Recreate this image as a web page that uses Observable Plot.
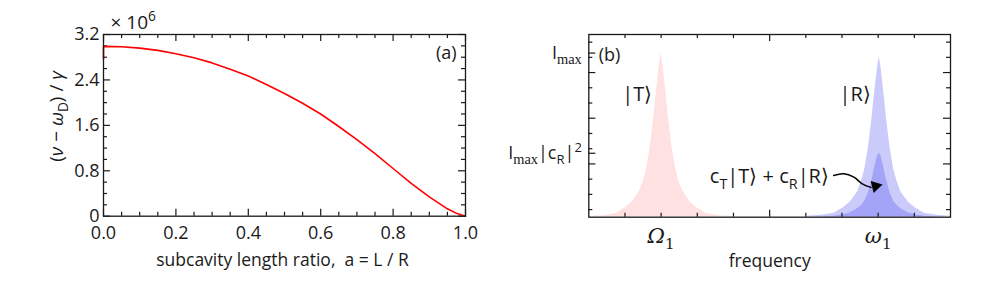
<!DOCTYPE html>
<html><head><meta charset="utf-8">
<script src="https://cdn.jsdelivr.net/npm/d3@7"></script>
<script src="https://cdn.jsdelivr.net/npm/@observablehq/plot@0.6"></script>
<style>
html,body{margin:0;padding:0;background:#fff;}
#wrap{position:relative;width:996px;height:296px;overflow:hidden;background:#fff;}
#wrap svg{position:absolute;top:0;}
</style></head><body><div id="wrap"></div>
<script>
// ---------- Panel (a) data ----------
const lengthRatio = [0, 0, 0.05, 0.1, 0.15, 0.2, 0.25, 0.3, 0.35, 0.4, 0.45, 0.5, 0.55, 0.6, 0.65, 0.7, 0.75, 0.8, 0.85, 0.9, 0.95, 0.975, 1.0];
const detuning    = [2.77, 2.99, 2.985, 2.96, 2.92, 2.86, 2.79, 2.70, 2.59, 2.47, 2.32, 2.16, 1.99, 1.80, 1.58, 1.35, 1.10, 0.84, 0.58, 0.34, 0.13, 0.05, 0.0];
const aXTicks = [0, 0.2, 0.4, 0.6, 0.8, 1.0];
const aXTickLabels = ["0.0", "0.2", "0.4", "0.6", "0.8", "1.0"];
const aYTicks = [0, 0.8, 1.6, 2.4, 3.2];
const aYTickLabels = ["0", "0.8", "1.6", "2.4", "3.2"];

// ---------- Panel (b) data ----------
const lineOffsets = [-2, -1.6, -1.25, -1.0, -0.8, -0.6, -0.5, -0.4, -0.3, -0.2, -0.15, -0.1, -0.05, 0, 0.05, 0.1, 0.15, 0.2, 0.3, 0.4, 0.5, 0.6, 0.8, 1.0, 1.25, 1.6, 2.0];
const heightT   = [0.04, 0.1, 0.25, 0.6, 1.0, 1.7, 2.3, 3.2, 4.6, 6.6, 7.8, 8.9, 10.0, 10.78, 10.0, 8.9, 7.8, 6.6, 4.6, 3.2, 2.3, 1.7, 1.0, 0.6, 0.25, 0.1, 0.04];
const heightR   = [0.06, 0.12, 0.26, 0.6, 1.0, 1.65, 2.3, 3.15, 4.55, 6.5, 7.7, 8.75, 9.8, 10.56, 9.8, 8.75, 7.7, 6.5, 4.55, 3.15, 2.3, 1.65, 1.0, 0.6, 0.26, 0.12, 0.06];
const heightMix = [0.0, 0.02, 0.06, 0.15, 0.3, 0.55, 0.75, 1.05, 1.6, 2.45, 3.0, 3.55, 4.0, 4.2, 4.0, 3.55, 3.0, 2.45, 1.6, 1.05, 0.75, 0.55, 0.3, 0.15, 0.06, 0.02, 0.0];
const centerT = 2.0;
const centerR = 8.03;
const bXTicks = [2, 8];
const bXTickLabels = ["*{Ω}_{1}", "*{ω}_{1}"];
const bYTicks = [10.78, 4.2];
const bYTickLabels = ["I_{max}", "I_{max}|c_{R}|^{2}"];
const stateLabels = ["|T⟩", "|R⟩", "c_{T}|T⟩ + c_{R}|R⟩"];

const FONT = "'Open Sans', Lato, sans-serif";
const INK = "#1a1a1a";
const MID = {lineAnchor: "middle"};

function tickMarks(xMaj, xMin, yMaj, yMin, iw, ih, maj = 7, min = 4) {
  const o = {stroke: INK, strokeWidth: 1.2};
  return [
    Plot.tickX(xMaj, {x: d => d, insetTop: ih - maj, ...o}),
    Plot.tickX(xMaj, {x: d => d, insetBottom: ih - maj, ...o}),
    Plot.tickX(xMin, {x: d => d, insetTop: ih - min, ...o}),
    Plot.tickX(xMin, {x: d => d, insetBottom: ih - min, ...o}),
    Plot.tickY(yMaj, {y: d => d, insetRight: iw - maj, ...o}),
    Plot.tickY(yMaj, {y: d => d, insetLeft: iw - maj, ...o}),
    Plot.tickY(yMin, {y: d => d, insetRight: iw - min, ...o}),
    Plot.tickY(yMin, {y: d => d, insetLeft: iw - min, ...o})
  ];
}

// Turns "_{..}", "^{..}" and "*{..}" (italic) markup into SVG tspans.
function richify(svg) {
  d3.select(svg).selectAll('g[aria-description="rich"] text').each(function () {
    const s = this.textContent;
    const fs = parseFloat(this.parentNode.getAttribute("font-size")) || 16;
    const el = d3.select(this);
    el.text(null);
    const parts = s.split(/(_\{[^}]*\}|\^\{[^}]*\}|\*\{[^}]*\})/).filter(p => p);
    let shift = 0;
    for (const p of parts) {
      let txt = p, target = 0, small = false, italic = false;
      if (p.startsWith("_{")) { txt = p.slice(2, -1); target = 0.28 * fs; small = true; }
      else if (p.startsWith("^{")) { txt = p.slice(2, -1); target = -0.4 * fs; small = true; }
      else if (p.startsWith("*{")) { txt = p.slice(2, -1); italic = true; }
      const t = el.append("tspan").text(txt).attr("dy", (target - shift) + "px");
      if (small) t.attr("font-size", "72%").attr("font-style", "normal");
      if (txt === "max") t.attr("font-family", "'Liberation Serif', 'DejaVu Serif', serif").attr("font-size", "80%");
      if (italic) t.attr("font-style", "italic");
      shift = target;
    }
  });
}

// ---------- Panel (a) ----------
const aRows = lengthRatio.map((a, i) => ({a, v: detuning[i]}));
const aM = {l: 103, r: 33, t: 34, b: 80.3};
const aIW = 498 - aM.l - aM.r, aIH = 296 - aM.t - aM.b;
const aXMinor = d3.range(0.05, 1, 0.05).filter(v => Math.abs(v * 5 - Math.round(v * 5)) > 1e-6);
const aYMinor = d3.range(0.2, 3.2, 0.2).filter(v => Math.abs(v / 0.8 - Math.round(v / 0.8)) > 1e-6);

const plotA = Plot.plot({
  width: 498, height: 296,
  marginLeft: aM.l, marginRight: aM.r, marginTop: aM.t, marginBottom: aM.b,
  x: {domain: [0, 1], axis: null},
  y: {domain: [0, 3.2], axis: null},
  style: {fontFamily: FONT, background: "transparent", overflow: "visible", color: INK},
  marks: [
    ...tickMarks(aXTicks, aXMinor, aYTicks, aYMinor, aIW, aIH),
    Plot.line(aRows, {x: "a", y: "v", stroke: "#ff0000", strokeWidth: 1.6}),
    Plot.frame({stroke: INK, strokeWidth: 1.3}),
    Plot.text(aXTicks, {x: d => d, text: (d, i) => aXTickLabels[i], frameAnchor: "bottom", dy: 17, fontSize: 18, fill: INK, ...MID}),
    Plot.text(aYTicks, {y: d => d, text: (d, i) => aYTickLabels[i], frameAnchor: "left", dx: -4, textAnchor: "end", fontSize: 18, fill: INK, ...MID}),
    Plot.text(["subcavity length ratio,  a = L / R"], {text: d => d, frameAnchor: "bottom", dy: 44, dx: -2, textAnchor: "middle", fontSize: 17.5, fill: INK, ...MID}),
    Plot.text(["(*{ν} − *{ω}_{D}) / *{γ}"], {text: d => d, frameAnchor: "left", dx: -47, dy: -9, rotate: -90, textAnchor: "middle", fontSize: 19, fill: INK, ariaDescription: "rich", ...MID}),
    Plot.text(["× 10^{6}"], {text: d => d, frameAnchor: "top-left", dx: 7, dy: -12, textAnchor: "start", fontSize: 19, fill: INK, ariaDescription: "rich", ...MID}),
    Plot.text(["(a)"], {text: d => d, frameAnchor: "top-right", dx: -9, dy: 19, textAnchor: "end", fontSize: 18, fill: INK, ...MID})
  ]
});
richify(plotA);

// ---------- Panel (b) ----------
const bM = {l: 90.3, r: 46, t: 34, b: 79.3};
const bIW = 498 - bM.l - bM.r, bIH = 296 - bM.t - bM.b;
const rowsT = lineOffsets.map((o, i) => ({f: centerT + o, I: heightT[i]}));
const rowsR = lineOffsets.map((o, i) => ({f: centerR + o, I: heightR[i]}));
const rowsMix = lineOffsets.map((o, i) => ({f: centerR + o, I: heightMix[i]}));
const bXMajor = [5];
const bXMinor = [1, 2, 3, 4, 6, 7, 8, 9];
const bYMajor = [3.5, 6.5, 9.5];
const bYMinor = [0.5, 1.5, 2.5, 4.5, 5.5, 7.5, 8.5, 10.5, 11.5];

const plotB = Plot.plot({
  width: 498, height: 296,
  marginLeft: bM.l, marginRight: bM.r, marginTop: bM.t, marginBottom: bM.b,
  x: {domain: [0, 10], axis: null},
  y: {domain: [0, 12], axis: null},
  style: {fontFamily: FONT, background: "transparent", overflow: "visible", color: INK},
  marks: [
    Plot.areaY(rowsT, {x: "f", y: "I", fill: "#ffe1e1", clip: true}),
    Plot.areaY(rowsR, {x: "f", y: "I", fill: "#cbcbfb", clip: true}),
    Plot.areaY(rowsMix, {x: "f", y: "I", fill: "#a3a3f7", clip: true}),
    ...tickMarks(bXMajor, bXMinor, bYMajor, bYMinor, bIW, bIH),
    Plot.tickY(bYTicks, {y: d => d, insetRight: bIW - 7, stroke: INK, strokeWidth: 1.2}),
    Plot.frame({stroke: INK, strokeWidth: 1.3}),
    Plot.text(bXTicks, {x: d => d, text: (d, i) => bXTickLabels[i], frameAnchor: "bottom", dy: 19, textAnchor: "middle", fontSize: 21, fontFamily: "'DejaVu Serif', serif", fill: INK, ariaDescription: "rich", ...MID}),
    Plot.text(bYTicks, {y: d => d, text: (d, i) => bYTickLabels[i], frameAnchor: "left", dx: -7, textAnchor: "end", fontSize: 18, fill: INK, ariaDescription: "rich", ...MID}),
    Plot.text(["frequency"], {text: d => d, frameAnchor: "bottom", dy: 44, textAnchor: "middle", fontSize: 17.5, fill: INK, ...MID}),
    Plot.text(["(b)"], {text: d => d, frameAnchor: "top-left", dx: 10, dy: 21, textAnchor: "start", fontSize: 18, fill: INK, ...MID}),
    Plot.text([stateLabels[0]], {text: d => d, x: centerT, y: 8.05, dx: -24, fontSize: 20, fill: INK, ...MID}),
    Plot.text([stateLabels[1]], {text: d => d, x: centerR, y: 8.05, dx: -24, fontSize: 20, fill: INK, ...MID}),
    Plot.text([stateLabels[2]], {text: d => d, x: 6.64, y: 2.67, textAnchor: "end", fontSize: 20, fill: INK, ariaDescription: "rich", ...MID}),
    Plot.line([{x: 6.77, y: 2.74}, {x: 7.05, y: 2.85}, {x: 7.33, y: 2.63}, {x: 7.56, y: 2.19}, {x: 7.8, y: 1.96}],
      {x: "x", y: "y", curve: "catmull-rom", stroke: "black", strokeWidth: 1.5}),
    Plot.dot([{x: 7.93, y: 2.04}], {x: "x", y: "y", symbol: "triangle", r: 4.6, fill: "black", rotate: 76})
  ]
});
richify(plotB);

const wrap = document.getElementById("wrap");
plotA.style.left = "0px";
plotB.style.left = "498px";
wrap.appendChild(plotA);
wrap.appendChild(plotB);
</script>
</body></html>
